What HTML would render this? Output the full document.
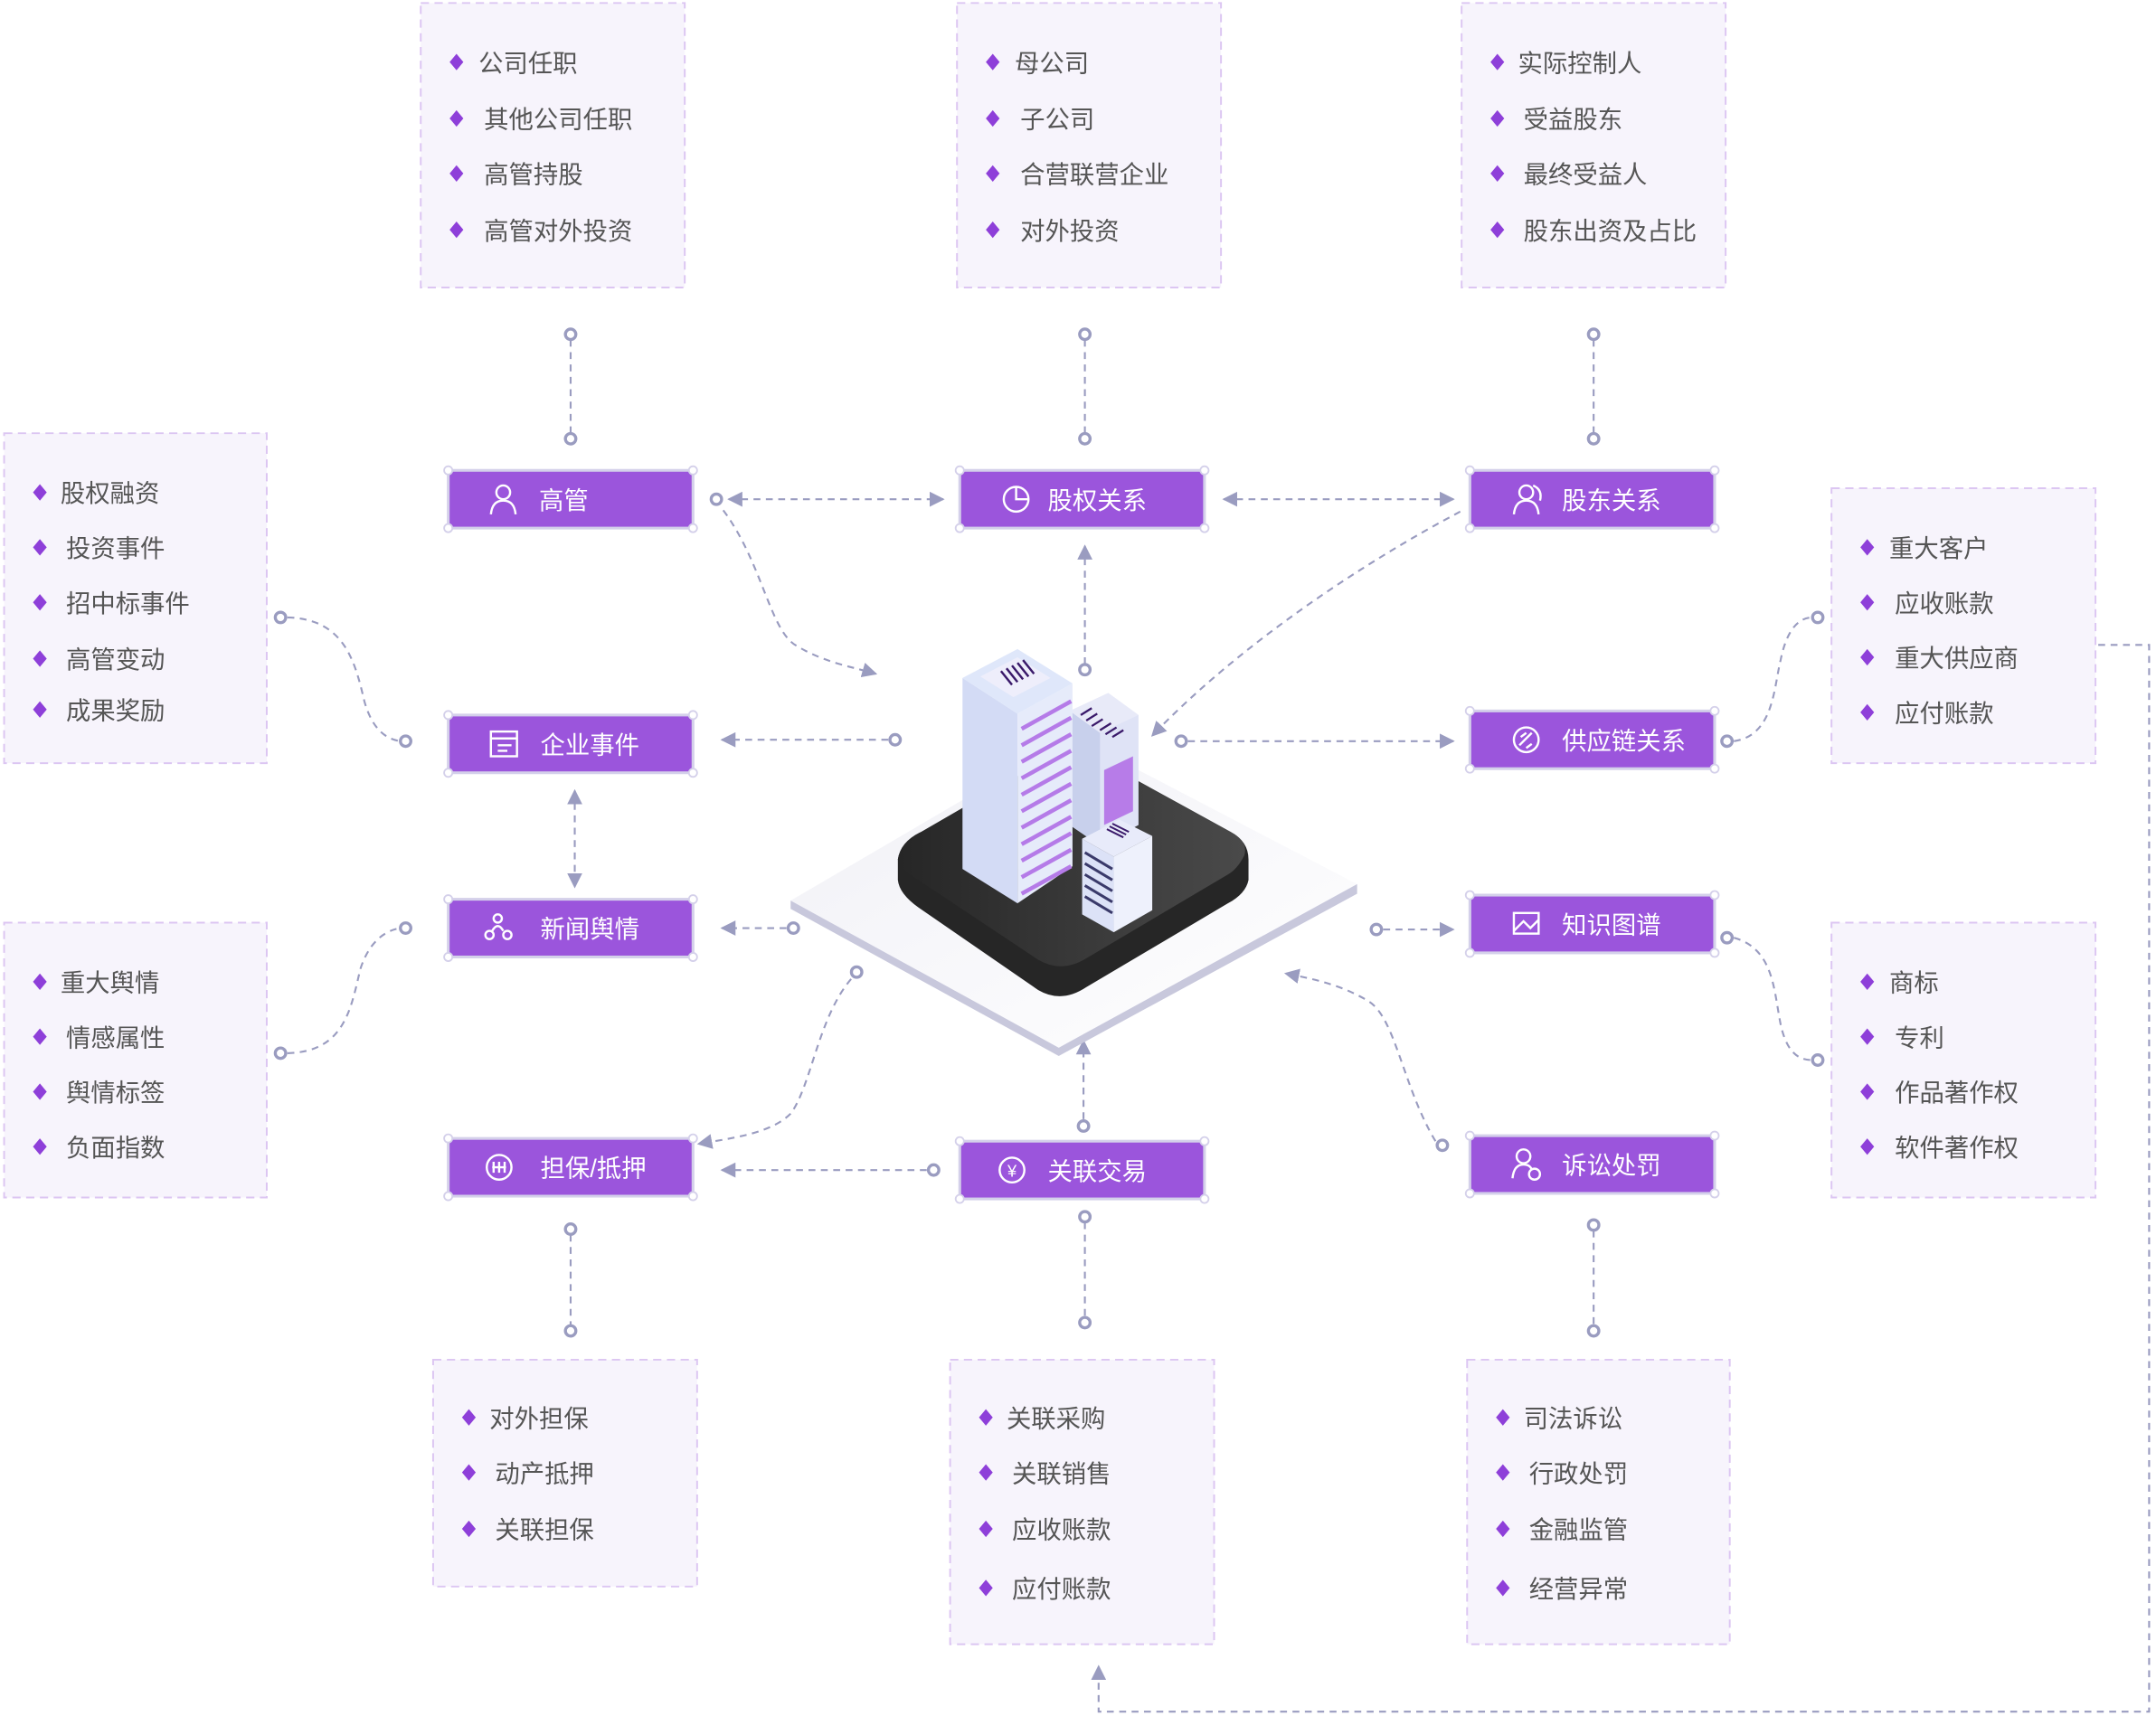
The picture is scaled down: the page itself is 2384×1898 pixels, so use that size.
<!DOCTYPE html>
<html><head><meta charset="utf-8"><style>
html,body{margin:0;padding:0;background:#fff;}
svg{display:block}
text{font-family:"Liberation Sans","Noto Sans CJK SC",sans-serif;}
.box{fill:#f7f4fc;stroke:#dcc6f2;stroke-width:1.3;stroke-dasharray:6 4}
.it{font-size:18px;fill:#555}
.dm{fill:#8e3fd9}
.nd{fill:#9b55dc;stroke:#d4d0ea;stroke-width:2}
.nt{font-size:18px;fill:#fff}
.cc{fill:#fff;stroke:#d4d0ea;stroke-width:1.2}
.ln{fill:none;stroke:#9a9cc0;stroke-width:1.4;stroke-dasharray:5 4}
.ci{fill:#fff;stroke:#9a9cc0;stroke-width:2.2}
.ar{fill:#9a9cc0}
.ic{fill:none;stroke:#fff;stroke-width:1.6}
</style></head><body>
<svg width="2384" height="1898" viewBox="0 0 1568 1248" xmlns="http://www.w3.org/2000/svg">
<defs>
<marker id="a" viewBox="0 0 10 10" refX="9" refY="5" markerWidth="11" markerHeight="11" markerUnits="userSpaceOnUse" orient="auto-start-reverse"><path d="M0,0 L10,5 L0,10 z" fill="#9a9cc0"/></marker>
<linearGradient id="slab" x1="0" y1="0" x2="1" y2="1"><stop offset="0" stop-color="#f0f0f6"/><stop offset="1" stop-color="#ffffff"/></linearGradient>
<linearGradient id="dark" x1="0" y1="0" x2="1" y2="0"><stop offset="0" stop-color="#262626"/><stop offset="1" stop-color="#4a4a4a"/></linearGradient>
</defs>

<g>
<rect class="box" x="306" y="2" width="192" height="207"/>
<rect class="box" x="696" y="2" width="192" height="207"/>
<rect class="box" x="1063" y="2" width="192" height="207"/>
<rect class="box" x="3" y="315" width="191" height="240"/>
<rect class="box" x="3" y="671" width="191" height="200"/>
<rect class="box" x="1332" y="355" width="192" height="200"/>
<rect class="box" x="1332" y="671" width="192" height="200"/>
<rect class="box" x="315" y="989" width="192" height="165"/>
<rect class="box" x="691" y="989" width="192" height="207"/>
<rect class="box" x="1067" y="989" width="191" height="207"/>
</g>

<g id="items">
<path class="dm" d="M332,39l5,6l-5,6l-5,-6z M332,80l5,6l-5,6l-5,-6z M332,120l5,6l-5,6l-5,-6z M332,161l5,6l-5,6l-5,-6z"/>
<text class="it" x="348" y="52">公司任职</text><text class="it" x="352" y="93">其他公司任职</text><text class="it" x="352" y="133">高管持股</text><text class="it" x="352" y="174">高管对外投资</text>
<path class="dm" d="M722,39l5,6l-5,6l-5,-6z M722,80l5,6l-5,6l-5,-6z M722,120l5,6l-5,6l-5,-6z M722,161l5,6l-5,6l-5,-6z"/>
<text class="it" x="738" y="52">母公司</text><text class="it" x="742" y="93">子公司</text><text class="it" x="742" y="133">合营联营企业</text><text class="it" x="742" y="174">对外投资</text>
<path class="dm" d="M1089,39l5,6l-5,6l-5,-6z M1089,80l5,6l-5,6l-5,-6z M1089,120l5,6l-5,6l-5,-6z M1089,161l5,6l-5,6l-5,-6z"/>
<text class="it" x="1104" y="52">实际控制人</text><text class="it" x="1108" y="93">受益股东</text><text class="it" x="1108" y="133">最终受益人</text><text class="it" x="1108" y="174">股东出资及占比</text>
<path class="dm" d="M29,352l5,6l-5,6l-5,-6z M29,392l5,6l-5,6l-5,-6z M29,432l5,6l-5,6l-5,-6z M29,473l5,6l-5,6l-5,-6z M29,510l5,6l-5,6l-5,-6z"/>
<text class="it" x="44" y="365">股权融资</text><text class="it" x="48" y="405">投资事件</text><text class="it" x="48" y="445">招中标事件</text><text class="it" x="48" y="486">高管变动</text><text class="it" x="48" y="523">成果奖励</text>
<path class="dm" d="M29,708l5,6l-5,6l-5,-6z M29,748l5,6l-5,6l-5,-6z M29,788l5,6l-5,6l-5,-6z M29,828l5,6l-5,6l-5,-6z"/>
<text class="it" x="44" y="721">重大舆情</text><text class="it" x="48" y="761">情感属性</text><text class="it" x="48" y="801">舆情标签</text><text class="it" x="48" y="841">负面指数</text>
<path class="dm" d="M1358,392l5,6l-5,6l-5,-6z M1358,432l5,6l-5,6l-5,-6z M1358,472l5,6l-5,6l-5,-6z M1358,512l5,6l-5,6l-5,-6z"/>
<text class="it" x="1374" y="405">重大客户</text><text class="it" x="1378" y="445">应收账款</text><text class="it" x="1378" y="485">重大供应商</text><text class="it" x="1378" y="525">应付账款</text>
<path class="dm" d="M1358,708l5,6l-5,6l-5,-6z M1358,748l5,6l-5,6l-5,-6z M1358,788l5,6l-5,6l-5,-6z M1358,828l5,6l-5,6l-5,-6z"/>
<text class="it" x="1374" y="721">商标</text><text class="it" x="1378" y="761">专利</text><text class="it" x="1378" y="801">作品著作权</text><text class="it" x="1378" y="841">软件著作权</text>
<path class="dm" d="M341,1025l5,6l-5,6l-5,-6z M341,1065l5,6l-5,6l-5,-6z M341,1106l5,6l-5,6l-5,-6z"/>
<text class="it" x="356" y="1038">对外担保</text><text class="it" x="360" y="1078">动产抵押</text><text class="it" x="360" y="1119">关联担保</text>
<path class="dm" d="M717,1025l5,6l-5,6l-5,-6z M717,1065l5,6l-5,6l-5,-6z M717,1106l5,6l-5,6l-5,-6z M717,1149l5,6l-5,6l-5,-6z"/>
<text class="it" x="732" y="1038">关联采购</text><text class="it" x="736" y="1078">关联销售</text><text class="it" x="736" y="1119">应收账款</text><text class="it" x="736" y="1162">应付账款</text>
<path class="dm" d="M1093,1025l5,6l-5,6l-5,-6z M1093,1065l5,6l-5,6l-5,-6z M1093,1106l5,6l-5,6l-5,-6z M1093,1149l5,6l-5,6l-5,-6z"/>
<text class="it" x="1108" y="1038">司法诉讼</text><text class="it" x="1112" y="1078">行政处罚</text><text class="it" x="1112" y="1119">金融监管</text><text class="it" x="1112" y="1162">经营异常</text>
</g>

<g>
<path class="ln" d="M415,247V315 M789,247V315 M1159,247V315 M415,898V964 M789,889V958 M1159,895V964"/>
<path class="ln" d="M530,363H686" marker-start="url(#a)" marker-end="url(#a)"/>
<path class="ln" d="M890,363H1057" marker-start="url(#a)" marker-end="url(#a)"/>
<path class="ln" d="M789,483V397" marker-end="url(#a)"/>
<path class="ln" d="M526,371 C555,410 560,460 580,470 C600,482 620,485 637,490" marker-end="url(#a)"/>
<path class="ln" d="M1062,372 C990,410 900,470 838,535" marker-end="url(#a)"/>
<path class="ln" d="M646,538H525" marker-end="url(#a)"/>
<path class="ln" d="M418,575V645" marker-start="url(#a)" marker-end="url(#a)"/>
<path class="ln" d="M864,539H1057" marker-end="url(#a)"/>
<path class="ln" d="M572,675H525" marker-end="url(#a)"/>
<path class="ln" d="M1006,676H1057" marker-end="url(#a)"/>
<path class="ln" d="M619,712 C595,740 590,790 575,810 C560,825 530,828 508,832" marker-end="url(#a)"/>
<path class="ln" d="M674,851H525" marker-end="url(#a)"/>
<path class="ln" d="M788,814V757" marker-end="url(#a)"/>
<path class="ln" d="M1044,830 C1020,790 1015,740 995,728 C975,716 955,712 935,708" marker-end="url(#a)"/>
<path class="ln" d="M209,449 C250,450 258,480 265,510 C272,535 285,538 291,539"/>
<path class="ln" d="M209,766 C250,765 255,735 262,705 C270,680 285,676 291,675"/>
<path class="ln" d="M1261,539 C1290,535 1290,500 1295,480 C1300,455 1310,449 1318,449"/>
<path class="ln" d="M1261,682 C1290,690 1290,720 1295,745 C1300,768 1310,771 1318,771"/>
<path class="ln" d="M1526,469H1563V1245H799V1212" marker-end="url(#a)"/>
<g class="ci">
<circle cx="415" cy="243" r="3.8"/><circle cx="415" cy="319" r="3.8"/><circle cx="789" cy="243" r="3.8"/><circle cx="789" cy="319" r="3.8"/><circle cx="1159" cy="243" r="3.8"/><circle cx="1159" cy="319" r="3.8"/>
<circle cx="415" cy="894" r="3.8"/><circle cx="415" cy="968" r="3.8"/><circle cx="789" cy="885" r="3.8"/><circle cx="789" cy="962" r="3.8"/><circle cx="1159" cy="891" r="3.8"/><circle cx="1159" cy="968" r="3.8"/>
<circle cx="521" cy="363" r="3.8"/><circle cx="789" cy="487" r="3.8"/><circle cx="651" cy="538" r="3.8"/><circle cx="859" cy="539" r="3.8"/><circle cx="577" cy="675" r="3.8"/><circle cx="1001" cy="676" r="3.8"/>
<circle cx="623" cy="707" r="3.8"/><circle cx="679" cy="851" r="3.8"/><circle cx="788" cy="819" r="3.8"/><circle cx="1049" cy="833" r="3.8"/>
<circle cx="204" cy="449" r="3.8"/><circle cx="295" cy="539" r="3.8"/><circle cx="204" cy="766" r="3.8"/><circle cx="295" cy="675" r="3.8"/>
<circle cx="1256" cy="539" r="3.8"/><circle cx="1322" cy="449" r="3.8"/><circle cx="1256" cy="682" r="3.8"/><circle cx="1322" cy="771" r="3.8"/>
</g>
</g>

<g>
<path d="M575,655 L575,661 L770,768 L987,650 L987,643 Z" fill="#c8c8dc"/>
<path d="M575,655 L780,535 L987,643 L770,762 Z" fill="url(#slab)"/>
<path d="M653,640 L653,625 Q655,612 670,605 L765,550 Q780,543 795,550 L895,605 Q908,612 908,625 L908,640 Q906,650 893,657 L790,718 Q772,730 755,720 L668,660 Q654,650 653,640 Z" fill="#262626"/>
<path d="M653,625 Q655,612 670,605 L765,550 Q780,543 795,550 L895,605 Q908,612 905,622 Q900,632 893,636 L790,697 Q772,708 755,698 L668,640 Q654,632 653,625 Z" fill="url(#dark)"/>
<path d="M778,517 L806,504 L828,520 L828,600 L800,615 L778,600 Z" fill="#dfe3f6"/>
<path d="M778,517 L800,530 L800,615 L778,600 Z" fill="#c8d0ec"/>
<path d="M778,517 L806,504 L828,520 L800,533 Z" fill="#e8eaf8"/>
<path d="M803,560 L824,550 L824,590 L803,600 Z" fill="#b77ce8"/>
<path d="M786,520l8,-5 M790,524l8,-5 M794,528l8,-5 M800,531l8,-5 M804,534l8,-5 M809,536l8,-5" stroke="#3a1a6a" stroke-width="1.5"/>
<path d="M700,493 L740,519 L740,657 L700,632 Z" fill="#d3dbf5"/>
<path d="M740,519 L780,497 L780,630 L740,657 Z" fill="#e6ebfa"/>
<path d="M700,493 L740,472 L780,497 L740,519 Z" fill="#dfe7fa"/>
<path d="M713,492 L740,478 L764,493 L737,507 Z" fill="#eeeefb"/>
<path d="M728,488l8,10 M732,486l8,10 M736,484l8,10 M740,482l8,10 M744,480l8,10" stroke="#3a1a6a" stroke-width="1.6"/>
<g stroke="#b57be8" stroke-width="3">
<path d="M743,530l36,-20 M743,542l36,-20 M743,554l36,-20 M743,566l36,-20 M743,578l36,-20 M743,590l36,-20 M743,602l36,-20 M743,614l36,-20 M743,626l36,-20 M743,638l36,-20 M743,650l36,-20"/>
</g>
<path d="M787,610 L810,623 L810,678 L787,665 Z" fill="#dce2f7"/>
<path d="M810,623 L838,608 L838,662 L810,678 Z" fill="#eef1fc"/>
<path d="M787,610 L814,596 L838,608 L810,623 Z" fill="#e8ebfa"/>
<path d="M805,603l12,6 M807,601l12,6 M809,599l12,6" stroke="#3a1a6a" stroke-width="1.3"/>
<g stroke="#3a3a6a" stroke-width="2"><path d="M789,620l20,12 M789,628l20,12 M789,636l20,12 M789,644l20,12 M789,652l20,12"/></g>
</g>

<g>
<rect class="nd" x="326" y="342" width="178" height="42"/>
<rect class="nd" x="698" y="342" width="178" height="42"/>
<rect class="nd" x="1069" y="342" width="178" height="42"/>
<rect class="nd" x="326" y="520" width="178" height="42"/>
<rect class="nd" x="1069" y="517" width="178" height="42"/>
<rect class="nd" x="326" y="654" width="178" height="42"/>
<rect class="nd" x="1069" y="651" width="178" height="42"/>
<rect class="nd" x="326" y="828" width="178" height="42"/>
<rect class="nd" x="698" y="830" width="178" height="42"/>
<rect class="nd" x="1069" y="826" width="178" height="42"/>
<g class="cc">
<circle cx="326" cy="342" r="3"/><circle cx="504" cy="342" r="3"/><circle cx="326" cy="384" r="3"/><circle cx="504" cy="384" r="3"/>
<circle cx="698" cy="342" r="3"/><circle cx="876" cy="342" r="3"/><circle cx="698" cy="384" r="3"/><circle cx="876" cy="384" r="3"/>
<circle cx="1069" cy="342" r="3"/><circle cx="1247" cy="342" r="3"/><circle cx="1069" cy="384" r="3"/><circle cx="1247" cy="384" r="3"/>
<circle cx="326" cy="520" r="3"/><circle cx="504" cy="520" r="3"/><circle cx="326" cy="562" r="3"/><circle cx="504" cy="562" r="3"/>
<circle cx="1069" cy="517" r="3"/><circle cx="1247" cy="517" r="3"/><circle cx="1069" cy="559" r="3"/><circle cx="1247" cy="559" r="3"/>
<circle cx="326" cy="654" r="3"/><circle cx="504" cy="654" r="3"/><circle cx="326" cy="696" r="3"/><circle cx="504" cy="696" r="3"/>
<circle cx="1069" cy="651" r="3"/><circle cx="1247" cy="651" r="3"/><circle cx="1069" cy="693" r="3"/><circle cx="1247" cy="693" r="3"/>
<circle cx="326" cy="828" r="3"/><circle cx="504" cy="828" r="3"/><circle cx="326" cy="870" r="3"/><circle cx="504" cy="870" r="3"/>
<circle cx="698" cy="830" r="3"/><circle cx="876" cy="830" r="3"/><circle cx="698" cy="872" r="3"/><circle cx="876" cy="872" r="3"/>
<circle cx="1069" cy="826" r="3"/><circle cx="1247" cy="826" r="3"/><circle cx="1069" cy="868" r="3"/><circle cx="1247" cy="868" r="3"/>
</g>
<g class="ic">
<circle cx="366" cy="358" r="5"/><path d="M357,374 Q358,364 366,364 Q374,364 375,374"/>
<circle cx="739" cy="363" r="9"/><path d="M739,354 V363 H748"/>
<circle cx="1110" cy="358" r="5"/><path d="M1101,374 Q1102,364 1110,364 Q1118,364 1119,374 M1115,353 Q1122,356 1120,364"/>
<rect x="357" y="532" width="19" height="18"/><path d="M357,537H376 M362,542H372 M362,546H369"/>
<circle cx="1110" cy="538" r="9"/><path d="M1105,542 L1114,533 M1106,536l4,-3 M1110,544l4,-3"/>
<circle cx="362" cy="668" r="3"/><circle cx="356" cy="680" r="3"/><circle cx="369" cy="680" r="3"/><path d="M358,677 Q362,670 366,677"/>
<rect x="1101" y="664" width="18" height="15"/><path d="M1101,677 L1108,670 L1113,675 L1119,669"/>
<circle cx="363" cy="849" r="9"/><path d="M359,845V853 M363,845V853 M367,845V853 M358,849H368"/>
<circle cx="736" cy="851" r="9"/><text x="736" y="856" font-size="12" fill="#fff" stroke="none" text-anchor="middle">¥</text>
<circle cx="1108" cy="841" r="5"/><path d="M1100,857 Q1101,847 1108,847 Q1113,847 1114,851"/><circle cx="1116" cy="854" r="4"/>
</g>
<g class="nt">
<text x="392" y="370">高管</text>
<text x="762" y="370">股权关系</text>
<text x="1136" y="370">股东关系</text>
<text x="393" y="548">企业事件</text>
<text x="1136" y="545">供应链关系</text>
<text x="393" y="682">新闻舆情</text>
<text x="1136" y="679">知识图谱</text>
<text x="393" y="856">担保/抵押</text>
<text x="762" y="858">关联交易</text>
<text x="1136" y="854">诉讼处罚</text>
</g>
</g>
</svg>
</body></html>
